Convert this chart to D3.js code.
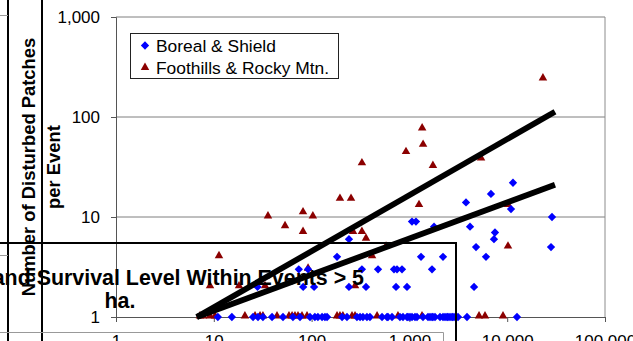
<!DOCTYPE html>
<html>
<head>
<meta charset="utf-8">
<script src="https://cdn.jsdelivr.net/npm/d3@7"></script>
<style>
  html, body { margin: 0; padding: 0; background: #fff; overflow: hidden; }
  svg { display: block; font-family: "Liberation Sans", Arial, Helvetica, sans-serif; }
</style>
</head>
<body>
<svg id="chart" width="633" height="341"></svg>
<script>
// Axis ticks
const xTicks = [1, 10, 100, 1000, 10000, 100000];
const yTicks = [1, 10, 100, 1000];

// Legend entries
const seriesNames = ["Boreal & Shield", "Foothills & Rocky Mtn."];

// Boreal & Shield: event area (ha) and number of disturbed patches
const borealArea = [
  241, 182, 74, 92, 327, 478, 696, 747, 840, 1315, 2206, 1703,
  82, 106, 241, 360, 730, 945, 28, 1063, 1167, 1786,
  11460, 6823, 3791, 10940, 28710, 4168, 7499, 7323, 4801, 28050, 6068, 4581,
  11, 15.3, 25.2, 28.3, 31.8, 39.4, 51, 64.5, 76.1, 96.3, 108, 116, 128, 137, 144,
  205, 230, 291, 313, 335, 368, 395, 525, 590, 604, 664, 801, 860, 945, 968,
  1014, 1063, 1141, 1196, 1377, 1549, 1625, 1703, 1742, 1828, 2056, 2206, 2312,
  2424, 2482, 2601, 2726, 2790, 2926, 3140, 3882, 12590
];
const borealPatches = [
  6, 4, 3, 3, 3, 3, 3, 3, 3, 4, 4, 3,
  2, 2, 2, 2, 2, 2, 2, 9, 9, 8,
  22, 17, 14, 12, 10, 8, 7, 6, 5, 5, 4, 2,
  1, 1, 1, 1, 1, 1, 1, 1, 1, 1, 1, 1, 1, 1, 1,
  1, 1, 1, 1, 1, 1, 1, 1, 1, 1, 1, 1, 1, 1, 1,
  1, 1, 1, 1, 1, 1, 1, 1, 1, 1, 1, 1, 1,
  1, 1, 1, 1, 1, 1, 1, 1, 1
];

// Foothills & Rocky Mountain: event area (ha) and number of disturbed patches
const foothillsArea = [
  23200, 1350, 1380, 5400, 327, 923, 1740, 195, 253, 1254,
  35.8, 81.7, 103, 53.5, 81.7, 265, 327, 360, 577, 415,
  11.3, 92, 9.15, 18.1, 33.4, 278, 10190, 10190,
  7.22, 7.76, 9.15, 10.3, 20.8, 26.4, 29.7, 31.8, 44.3, 58.7, 63.1, 67.6, 72.6,
  79.8, 89.8, 182, 195, 209, 259, 278, 467, 764, 1346, 5152, 5930, 9057
];
const foothillsPatches = [
  240, 76, 52, 38, 34, 44, 32, 15, 15, 13,
  10, 11, 10, 8, 7, 7, 7, 6, 5, 4,
  4, 3, 2, 2, 2, 2, 13, 5,
  1, 1, 1, 1, 1, 1, 1, 1, 1, 1, 1, 1, 1,
  1, 1, 1, 1, 1, 1, 1, 1, 1, 1, 1, 1, 1
];

// Power-law trend lines (end points in data units)
const trendArea = [6.7, 30800];
const trendSteep = [1, 113];
const trendShallow = [1, 21];

const svg = d3.select("#chart");

const x = d3.scaleLog().domain([1, 100000]).range([116, 605]);
const y = d3.scaleLog().domain([1, 1000]).range([317, 17]);
const fmt = d3.format(",");

// Horizontal gridlines
svg.append("g")
  .selectAll("line")
  .data(yTicks.slice(1))
  .join("line")
  .attr("x1", x(1)).attr("x2", x(100000))
  .attr("y1", d => y(d)).attr("y2", d => y(d))
  .attr("stroke", "#7f7f7f").attr("stroke-width", 1);

// Plot area right border
svg.append("line")
  .attr("x1", x(100000)).attr("x2", x(100000))
  .attr("y1", y(1000)).attr("y2", y(1))
  .attr("stroke", "#8c8c8c").attr("stroke-width", 1);

// Y axis
const yAxis = d3.axisLeft(y).tickValues(yTicks).tickFormat(fmt).tickSize(5).tickPadding(11);
const gy = svg.append("g").attr("transform", `translate(${x(1)},0)`).call(yAxis);
gy.select(".domain").attr("stroke", "#555");
gy.selectAll(".tick line").attr("stroke", "#555");
gy.selectAll(".tick text").attr("font-size", 17).attr("fill", "#000")
  .attr("font-family", "'Liberation Sans', Arial, sans-serif");

// X axis
const xAxis = d3.axisBottom(x).tickValues(xTicks).tickFormat(fmt).tickSize(5).tickPadding(13);
const gx = svg.append("g").attr("transform", `translate(0,${y(1)})`).call(xAxis);
gx.select(".domain").attr("stroke", "#555");
gx.selectAll(".tick line").attr("stroke", "#555");
gx.selectAll(".tick text").attr("font-size", 17).attr("fill", "#000")
  .attr("font-family", "'Liberation Sans', Arial, sans-serif");

// Markers
const diamond = d3.symbol().type(d3.symbolDiamond2).size(44);
const triangle = d3.symbol().type(d3.symbolTriangle2).size(52);

svg.append("g")
  .selectAll("path")
  .data(d3.range(foothillsArea.length))
  .join("path")
  .attr("d", triangle)
  .attr("transform", i => `translate(${x(foothillsArea[i])},${y(foothillsPatches[i]) - 1})`)
  .attr("fill", "#8b0000");

svg.append("g")
  .selectAll("path")
  .data(d3.range(borealArea.length))
  .join("path")
  .attr("d", diamond)
  .attr("transform", i => `translate(${x(borealArea[i])},${y(borealPatches[i])})`)
  .attr("fill", "#0000ff");

// Trend lines
const trendLine = d3.line().x(d => x(d[0])).y(d => y(d[1]));
[trendSteep, trendShallow].forEach(t => {
  svg.append("path")
    .datum(trendArea.map((a, i) => [a, t[i]]))
    .attr("d", trendLine)
    .attr("fill", "none")
    .attr("stroke", "#000")
    .attr("stroke-width", 5.8);
});

// Legend
const legend = svg.append("g");
legend.append("rect")
  .attr("x", 130.5).attr("y", 33.5).attr("width", 208).attr("height", 45)
  .attr("fill", "#fff").attr("stroke", "#222").attr("stroke-width", 1);
legend.append("path").attr("d", diamond).attr("transform", "translate(145,45.5)").attr("fill", "#0000ff");
legend.append("path").attr("d", triangle).attr("transform", "translate(145,67.5)").attr("fill", "#8b0000");
legend.selectAll("text")
  .data(seriesNames)
  .join("text")
  .attr("x", 156).attr("y", (d, i) => 52 + i * 21.5)
  .attr("font-size", 17.4).attr("fill", "#000")
  .text(d => d);

// Y axis title frame and text
svg.append("line").attr("x1", 8).attr("x2", 8).attr("y1", 0).attr("y2", 341)
  .attr("stroke", "#000").attr("stroke-width", 2);
svg.append("line").attr("x1", 42).attr("x2", 42).attr("y1", 0).attr("y2", 341)
  .attr("stroke", "#000").attr("stroke-width", 2);
svg.append("line").attr("x1", 0).attr("x2", 8).attr("y1", 15.5).attr("y2", 15.5)
  .attr("stroke", "#999").attr("stroke-width", 1);
svg.append("line").attr("x1", 0).attr("x2", 8).attr("y1", 255.5).attr("y2", 255.5)
  .attr("stroke", "#999").attr("stroke-width", 1);

const yTitle = svg.append("g").attr("font-weight", "bold").attr("font-size", 18.4).attr("fill", "#000");
yTitle.append("text").attr("transform", "translate(35,167) rotate(-90)")
  .attr("text-anchor", "middle").text("Number of Disturbed Patches");
yTitle.append("text").attr("transform", "translate(60,167) rotate(-90)")
  .attr("text-anchor", "middle").text("per Event");

// X axis title frame and text
svg.append("path")
  .attr("d", "M0,332.5H443.5V341")
  .attr("fill", "none").attr("stroke", "#999").attr("stroke-width", 1);
svg.append("path")
  .attr("d", "M0,243H456V341")
  .attr("fill", "none").attr("stroke", "#000").attr("stroke-width", 2);

const xTitle = svg.append("g").attr("font-weight", "bold").attr("font-size", 21.4).attr("fill", "#000");
xTitle.append("text").attr("x", 364).attr("y", 285).attr("text-anchor", "end")
  .text("and Survival Level Within Events > 5");
xTitle.append("text").attr("x", 120).attr("y", 308).attr("text-anchor", "middle")
  .text("ha.");
</script>
</body>
</html>
